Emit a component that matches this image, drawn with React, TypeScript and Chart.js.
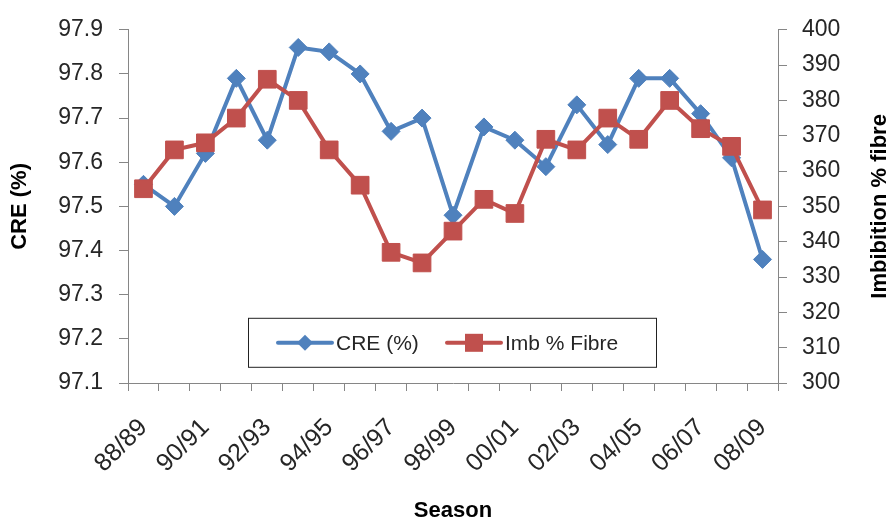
import React, { useEffect, useRef } from "react";
import { Chart, registerables } from "chart.js";

Chart.register(...registerables);

const seasons = [
  "88/89", "89/90", "90/91", "91/92", "92/93", "93/94", "94/95",
  "95/96", "96/97", "97/98", "98/99", "99/00", "00/01", "01/02",
  "02/03", "03/04", "04/05", "05/06", "06/07", "07/08", "08/09",
];
const creValues = [
  97.55, 97.5, 97.62, 97.79, 97.65, 97.86, 97.85, 97.8, 97.67, 97.7, 97.48,
  97.68, 97.65, 97.59, 97.73, 97.64, 97.79, 97.79, 97.71, 97.61, 97.38,
];
const imbValues = [
  355, 366, 368, 375, 386, 380, 366, 356, 337, 334, 343,
  352, 348, 369, 366, 375, 369, 380, 372, 367, 349,
];

const BLUE = "#4F81BD";
const RED = "#C0504D";
const AXIS = "#868686";
const TEXT = "#262626";
const FONT = "'Liberation Sans', Arial, sans-serif";

// draws the boxed legend inside the plot and the right axis title (reads bottom-up)
const extras = {
  id: "extras",
  afterDraw(chart: Chart) {
    const { ctx, chartArea } = chart;
    ctx.save();
    const bx = chartArea.left + 120;
    const by = chartArea.top + 288;
    ctx.fillStyle = "#fff";
    ctx.fillRect(bx, by, 408, 49);
    ctx.strokeStyle = "#222";
    ctx.lineWidth = 1;
    ctx.strokeRect(bx + 0.5, by + 0.5, 408, 49);
    const cy = by + 25;
    const items = [
      { x: bx + 30, color: BLUE, style: "diamond", label: "CRE (%)" },
      { x: bx + 199, color: RED, style: "square", label: "Imb % Fibre" },
    ];
    ctx.font = `21px ${FONT}`;
    ctx.textBaseline = "middle";
    items.forEach((it) => {
      ctx.strokeStyle = it.color;
      ctx.lineWidth = 4;
      ctx.lineCap = "round";
      ctx.beginPath();
      ctx.moveTo(it.x, cy);
      ctx.lineTo(it.x + 54, cy);
      ctx.stroke();
      ctx.fillStyle = it.color;
      const mx = it.x + 27;
      if (it.style === "diamond") {
        ctx.beginPath();
        ctx.moveTo(mx - 8, cy);
        ctx.lineTo(mx, cy - 8);
        ctx.lineTo(mx + 8, cy);
        ctx.lineTo(mx, cy + 8);
        ctx.closePath();
        ctx.fill();
      } else {
        ctx.fillRect(mx - 9, cy - 9, 18, 18);
      }
      ctx.fillStyle = TEXT;
      ctx.textAlign = "left";
      ctx.fillText(it.label, it.x + 58, cy + 1);
    });
    ctx.translate(880, (chartArea.top + chartArea.bottom) / 2);
    ctx.rotate(-Math.PI / 2);
    ctx.font = `bold 22px ${FONT}`;
    ctx.fillStyle = "#000";
    ctx.textAlign = "center";
    ctx.fillText("Imbibition % fibre", 0, 0);
    ctx.restore();
  },
};

const App: React.FC = () => {
  const chartRef = useRef<HTMLCanvasElement>(null);

  useEffect(() => {
    document.body.style.margin = "0";
    let chartInstance: Chart | null = null;
    if (chartRef.current) {
      const tickFont = { family: FONT, size: 23 };
      const titleFont = { family: FONT, size: 22, weight: "bold" as const, lineHeight: 1 };
      chartInstance = new Chart(chartRef.current, {
        type: "line",
        data: {
          labels: seasons,
          datasets: [
            {
              label: "CRE (%)",
              data: creValues,
              yAxisID: "y",
              borderColor: BLUE,
              backgroundColor: BLUE,
              borderWidth: 4,
              pointStyle: "rectRot",
              pointRadius: 9,
              pointBorderWidth: 1,
              tension: 0,
              order: 1,
            },
            {
              label: "Imb % Fibre",
              data: imbValues,
              yAxisID: "y1",
              borderColor: RED,
              backgroundColor: RED,
              borderWidth: 4,
              pointStyle: "rect",
              pointRadius: 12.5,
              pointBorderWidth: 1,
              tension: 0,
              order: 0,
            },
          ],
        },
        options: {
          responsive: false,
          animation: false,
          layout: { padding: { top: 25, left: 0, right: 0, bottom: 0 } },
          plugins: {
            legend: { display: false },
            tooltip: { enabled: false },
          },
          scales: {
            x: {
              offset: true,
              grid: {
                offset: true,
                drawOnChartArea: false,
                drawTicks: true,
                tickLength: 8,
                color: AXIS,
              },
              border: { color: AXIS },
              ticks: {
                autoSkip: false,
                maxRotation: 45,
                minRotation: 45,
                padding: 22,
                color: TEXT,
                font: { family: FONT, size: 25 },
                callback: (_v, i) => (i % 2 === 0 ? seasons[i] : ""),
              },
              title: {
                display: true,
                text: "Season",
                color: "#000",
                font: titleFont,
                padding: { top: 0, bottom: 0 },
              },
              afterFit: (scale) => {
                scale.height = 139;
              },
            },
            y: {
              position: "left",
              min: 97.1,
              max: 97.9,
              grid: {
                drawOnChartArea: false,
                tickLength: 9,
                color: AXIS,
              },
              border: { color: AXIS },
              ticks: {
                stepSize: 0.1,
                padding: 16,
                color: TEXT,
                font: tickFont,
                callback: (v) => Number(v).toFixed(1),
              },
              title: {
                display: true,
                text: "CRE (%)",
                color: "#000",
                font: titleFont,
                padding: { top: 9, bottom: 0 },
              },
              afterFit: (scale) => {
                scale.width = 128;
              },
            },
            y1: {
              position: "right",
              min: 300,
              max: 400,
              grid: {
                drawOnChartArea: false,
                tickLength: 9,
                color: AXIS,
              },
              border: { color: AXIS },
              ticks: {
                stepSize: 10,
                padding: 15,
                color: TEXT,
                font: tickFont,
              },
              afterFit: (scale) => {
                scale.width = 115;
              },
            },
          },
        },
        plugins: [extras],
      });
    }
    return () => {
      if (chartInstance) {
        chartInstance.destroy();
      }
    };
  }, []);

  return (
    <canvas
      ref={chartRef}
      width={893}
      height={522}
      style={{ width: "893px", height: "522px", display: "block" }}
    />
  );
};

export default App;
